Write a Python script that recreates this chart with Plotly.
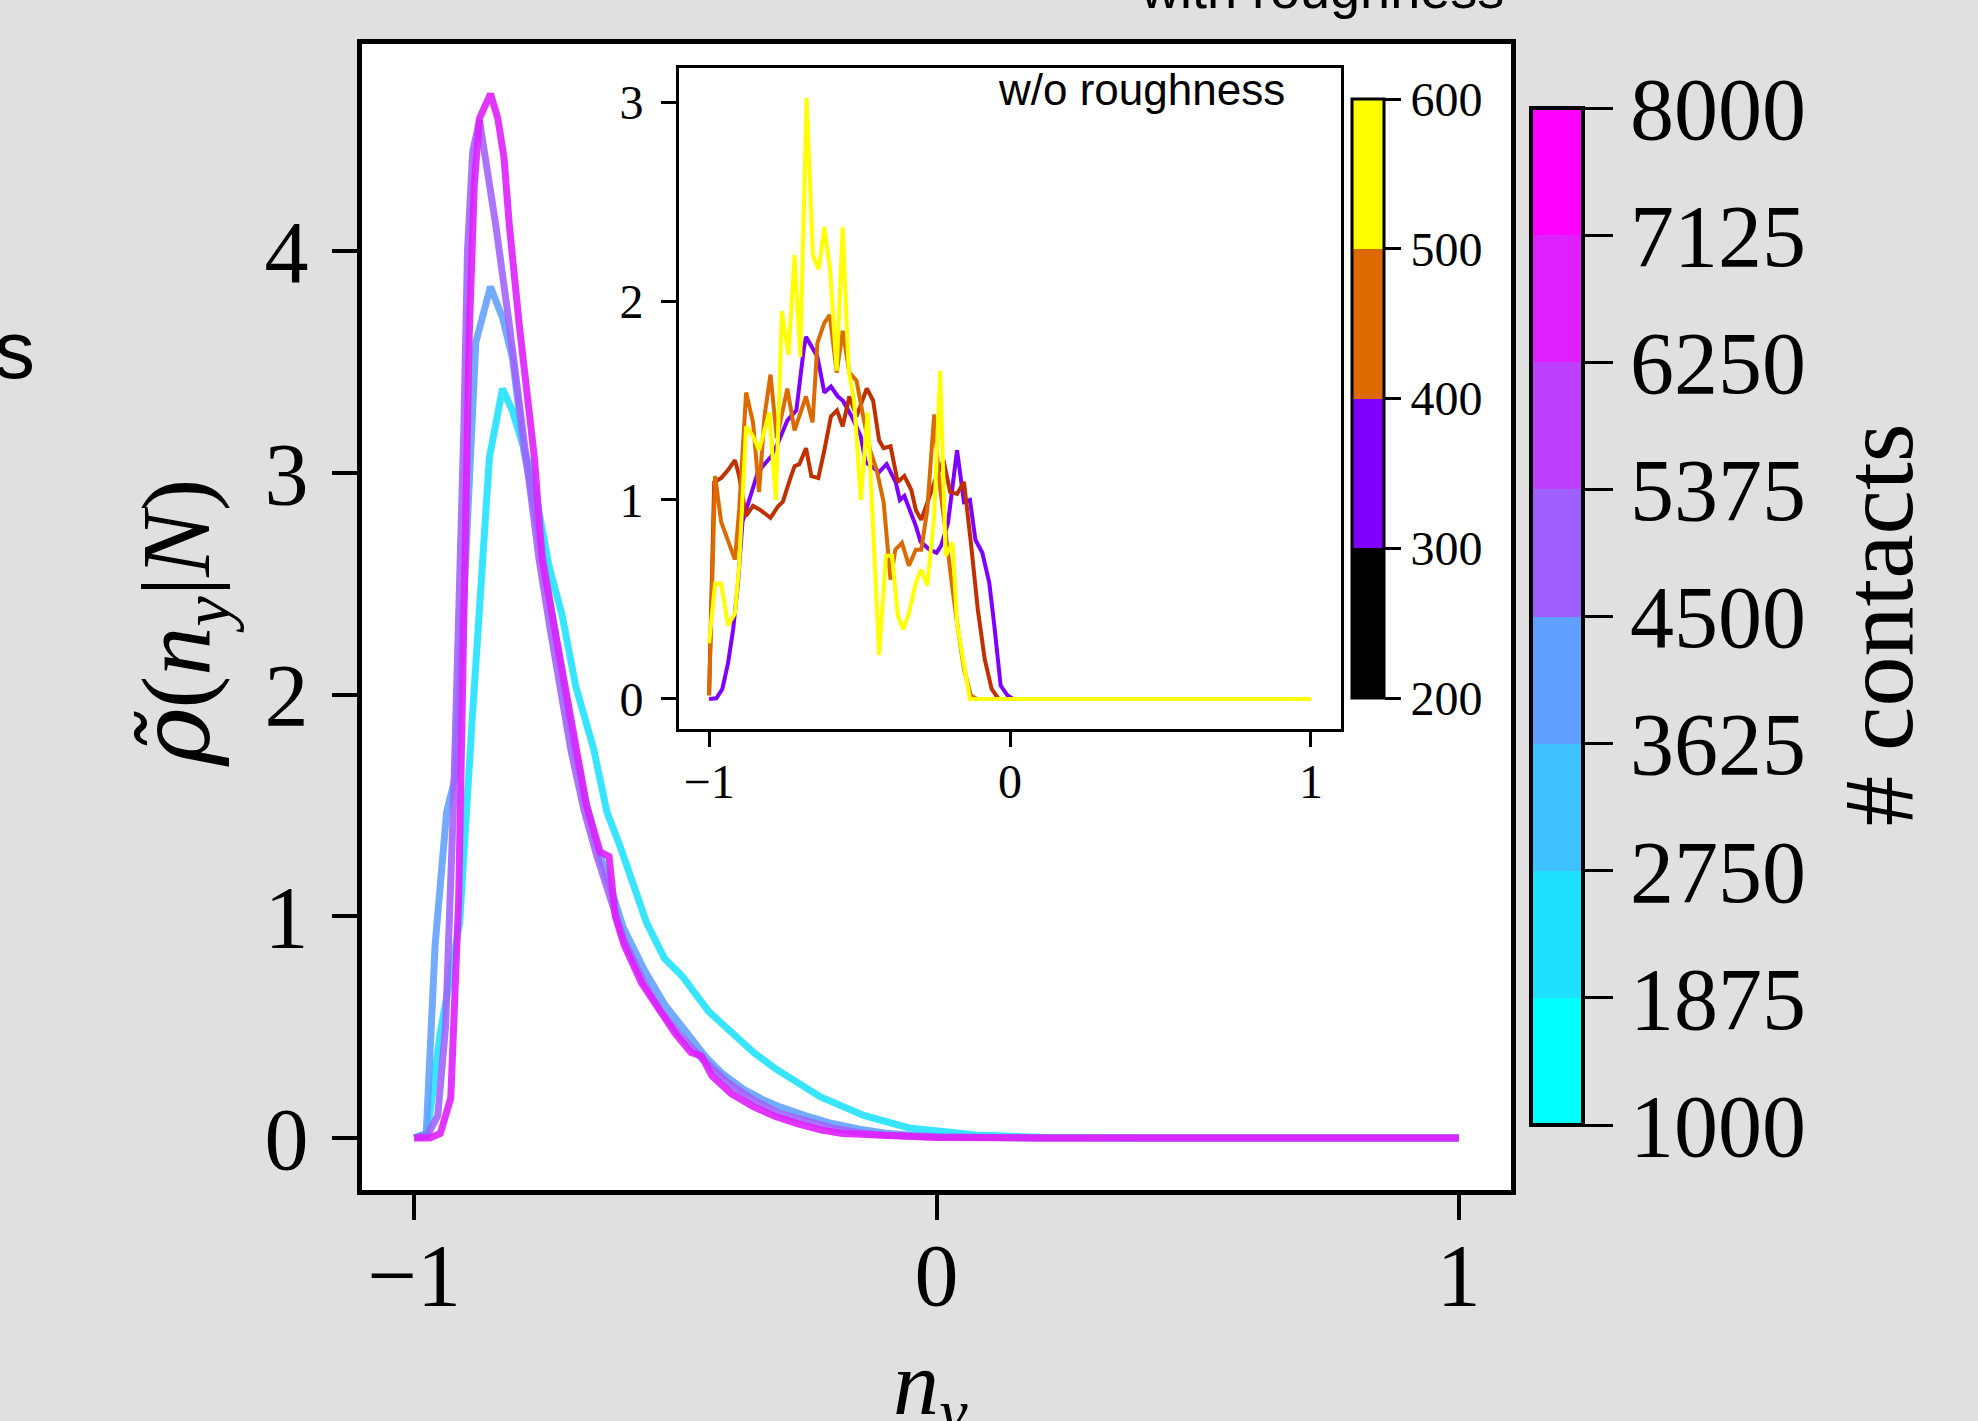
import plotly.graph_objects as go

W, H = 1978, 1421

# ---------------- main panel data (n_y, rho) ----------------
cyan_x = [-1.0, -0.975, -0.951, -0.913, -0.89, -0.861, -0.856, -0.831, -0.812, -0.774, -0.742, -0.717,
          -0.691, -0.657, -0.631, -0.605, -0.555, -0.521, -0.487, -0.436, -0.35, -0.307, -0.222,
          -0.138, -0.052, 0.076, 0.2, 0.4, 1.0]
cyan_y = [0.0, 0.02, 0.46, 0.97, 1.85, 2.88, 3.07, 3.38, 3.28, 2.99, 2.58, 2.36,
          2.04, 1.76, 1.47, 1.31, 0.97, 0.81, 0.73, 0.57, 0.385, 0.31, 0.185,
          0.10, 0.045, 0.013, 0.003, 0.0, 0.0]

blue_x = [-1.0, -0.977, -0.96, -0.938, -0.921, -0.909, -0.895, -0.882, -0.854, -0.831, -0.812, -0.79,
          -0.77, -0.75, -0.72, -0.7, -0.675, -0.65, -0.62, -0.6, -0.56, -0.52, -0.48, -0.44, -0.41,
          -0.37, -0.33, -0.3, -0.25, -0.2, -0.15, -0.1, -0.05, 0.0, 0.1, 0.2, 1.0]
blue_y = [0.0, 0.02, 0.87, 1.47, 1.63, 2.28, 3.0, 3.59, 3.84, 3.70, 3.52, 3.1,
          2.85, 2.55, 2.1, 1.85, 1.55, 1.32, 1.1, 0.95, 0.76, 0.6, 0.48, 0.36, 0.29,
          0.22, 0.17, 0.14, 0.1, 0.065, 0.04, 0.022, 0.012, 0.006, 0.002, 0.0, 0.0]

lav_x = [-1.0, -0.975, -0.955, -0.94, -0.925, -0.912, -0.905, -0.898, -0.888, -0.875, -0.863, -0.844,
         -0.818, -0.787, -0.761, -0.74, -0.72, -0.7, -0.675, -0.65, -0.62, -0.6, -0.56, -0.53, -0.49,
         -0.45, -0.4, -0.35, -0.3, -0.25, -0.2, -0.15, -0.1, 0.0, 0.2, 1.0]
lav_y = [0.0, 0.01, 0.1, 0.5, 1.5, 2.5, 3.2, 4.0, 4.45, 4.59, 4.42, 4.12,
         3.67, 3.07, 2.61, 2.3, 2.0, 1.75, 1.48, 1.27, 1.05, 0.9, 0.7, 0.58, 0.46,
         0.36, 0.25, 0.17, 0.11, 0.075, 0.045, 0.025, 0.012, 0.004, 0.0, 0.0]

mag_x = [-1.0, -0.97, -0.95, -0.93, -0.915, -0.905, -0.895, -0.885, -0.875, -0.854, -0.84, -0.828,
         -0.818, -0.799, -0.77, -0.755, -0.733, -0.711, -0.691, -0.67, -0.644, -0.627, -0.615, -0.598,
         -0.565, -0.529, -0.5, -0.47, -0.45, -0.43, -0.393, -0.35, -0.307, -0.265, -0.22, -0.18, -0.1,
         -0.05, 0.0, 0.2, 0.5, 1.0]
mag_y = [0.0, 0.0, 0.02, 0.18, 1.07, 2.3, 3.6, 4.3, 4.6, 4.71, 4.6, 4.42,
         4.12, 3.67, 3.07, 2.61, 2.32, 2.0, 1.76, 1.5, 1.29, 1.27, 1.0, 0.87,
         0.7, 0.57, 0.47, 0.385, 0.37, 0.28, 0.2, 0.14, 0.095, 0.063, 0.035, 0.02, 0.01,
         0.005, 0.002, 0.0, 0.0, 0.0]

# ---------------- inset data ----------------
vio_x = [-1.0, -0.976, -0.956, -0.937, -0.92, -0.904, -0.889, -0.873, -0.855, -0.838, -0.816, -0.793,
         -0.77, -0.74, -0.71, -0.70, -0.686, -0.678, -0.64, -0.617, -0.595, -0.572, -0.556, -0.526,
         -0.496, -0.48, -0.455, -0.435, -0.41, -0.38, -0.366, -0.351, -0.313, -0.297, -0.267, -0.244,
         -0.229, -0.206, -0.176, -0.161, -0.153, -0.133, -0.115, -0.092, -0.069, -0.053, -0.031,
         -0.008, 0.01, 1.0]
vio_y = [0.0, 0.003, 0.05, 0.18, 0.35, 0.58, 0.89, 0.97, 1.05, 1.14, 1.18, 1.22,
         1.29, 1.40, 1.45, 1.59, 1.75, 1.82, 1.72, 1.54, 1.57, 1.52, 1.50, 1.42,
         1.32, 1.19, 1.16, 1.14, 1.18, 1.09, 1.00, 1.02, 0.87, 0.79, 0.75, 0.735,
         0.77, 0.885, 1.25, 1.09, 0.99, 1.00, 0.80, 0.735, 0.585, 0.38, 0.067,
         0.017, 0.0, 0.0]

red_x = [-1.0, -0.983, -0.96, -0.937, -0.914, -0.90, -0.877, -0.854, -0.83, -0.796, -0.77, -0.755,
         -0.732, -0.716, -0.70, -0.678, -0.66, -0.637, -0.617, -0.595, -0.575, -0.556, -0.534, -0.51,
         -0.476, -0.455, -0.435, -0.42, -0.397, -0.373, -0.351, -0.328, -0.313, -0.295, -0.267,
         -0.244, -0.221, -0.199, -0.176, -0.153, -0.13, -0.107, -0.084, -0.061, -0.038, 1.0]
red_y = [0.02, 1.09, 1.11, 1.15, 1.2, 1.12, 0.92, 0.97, 0.95, 0.91, 0.97, 0.99,
         1.10, 1.17, 1.18, 1.26, 1.12, 1.11, 1.25, 1.42, 1.45, 1.37, 1.52, 1.42,
         1.56, 1.50, 1.30, 1.26, 1.27, 1.09, 1.12, 1.05, 0.95, 0.90, 1.02,
         1.12, 1.20, 1.04, 1.03, 1.09, 0.785, 0.45, 0.20, 0.05, 0.0, 0.0]

ora_x = [-1.0, -0.98, -0.96, -0.937, -0.914, -0.90, -0.877, -0.854, -0.834, -0.816, -0.796, -0.775,
         -0.74, -0.716, -0.694, -0.678, -0.656, -0.64, -0.617, -0.599, -0.576, -0.556, -0.534, -0.51,
         -0.488, -0.465, -0.443, -0.42, -0.397, -0.381, -0.359, -0.336, -0.313, -0.295, -0.275,
         -0.252, -0.237, -0.214, -0.191, -0.171, -0.153, -0.13, -0.11, 1.0]
ora_y = [0.017, 1.12, 0.89, 0.79, 0.70, 0.95, 1.54, 1.39, 1.04, 1.42, 1.63, 1.31,
         1.56, 1.35, 1.45, 1.52, 1.39, 1.79, 1.89, 1.93, 1.64, 1.85, 1.64, 1.60,
         1.42, 1.25, 1.15, 0.99, 0.60, 0.75, 0.785, 0.67, 0.75, 0.75, 0.95,
         1.43, 1.12, 0.82, 0.55, 0.33, 0.15, 0.017, 0.0, 0.0]

yel_x = [-1.0, -0.98, -0.96, -0.937, -0.914, -0.90, -0.877, -0.854, -0.834, -0.80, -0.778, -0.758,
         -0.736, -0.716, -0.697, -0.676, -0.655, -0.636, -0.617, -0.598, -0.576, -0.556, -0.536,
         -0.518, -0.496, -0.473, -0.435, -0.412, -0.392, -0.373, -0.355, -0.336, -0.313, -0.295,
         -0.275, -0.252, -0.232, -0.214, -0.191, -0.176, -0.153, -0.133, 1.0]
yel_y = [0.28, 0.58, 0.58, 0.37, 0.43, 0.67, 1.37, 1.32, 1.25, 1.44, 1.0, 1.95,
         1.73, 2.23, 1.72, 3.02, 2.23, 2.16, 2.37, 2.16, 1.65, 2.37, 1.65,
         1.50, 1.0, 1.44, 0.22, 0.72, 0.72, 0.42, 0.35, 0.43, 0.585, 0.65,
         0.57, 0.92, 1.65, 0.72, 0.785, 0.38, 0.17, 0.0, 0.0]

# ---------------- colorbar definitions ----------------
contact_ticks = [1000, 1875, 2750, 3625, 4500, 5375, 6250, 7125, 8000]
contact_colors = ["#00FFFF", "#1FE0FF", "#3FC0FF", "#5F9FFF", "#9F5FFF", "#BF3FFF", "#DF1FFF", "#FF00FF"]
inset_ticks = [200, 300, 400, 500, 600]
inset_colors = ["#000000", "#8000FF", "#DD6A00", "#FFFF00"]

main_ticks_x = [-1, 0, 1]
main_ticks_y = [0, 1, 2, 3, 4]
inset_ticks_y = [0, 1, 2, 3]


def discrete_scale(colors):
    n = len(colors)
    scale = []
    for i, c in enumerate(colors):
        scale.append([i / n, c])
        scale.append([(i + 1) / n, c])
    return scale


SERIF = "Liberation Serif, Times New Roman, serif"
SANS = "Liberation Sans, Arial, sans-serif"

fig = go.Figure()

main_series = [
    (cyan_x, cyan_y, "rgba(28,225,255,0.88)"),
    (blue_x, blue_y, "rgba(95,159,255,0.88)"),
    (lav_x, lav_y, "rgba(160,96,255,0.88)"),
    (mag_x, mag_y, "rgba(223,31,255,0.9)"),
]
for xs, ys, col in main_series:
    fig.add_trace(go.Scatter(x=xs, y=ys, mode="lines", line=dict(color=col, width=7),
                             xaxis="x", yaxis="y", hoverinfo="skip"))

inset_series = [
    (vio_x, vio_y, "#8000FF"),
    (red_x, red_y, "#C03000"),
    (ora_x, ora_y, "#DD6A00"),
    (yel_x, yel_y, "#FFFF00"),
]
for xs, ys, col in inset_series:
    fig.add_trace(go.Scatter(x=xs, y=ys, mode="lines", line=dict(color=col, width=4),
                             xaxis="x2", yaxis="y2", hoverinfo="skip"))

# main colorbar
fig.add_trace(go.Scatter(
    x=[None], y=[None], mode="markers", xaxis="x", yaxis="y", hoverinfo="skip",
    marker=dict(color=[contact_ticks[0], contact_ticks[-1]], cmin=contact_ticks[0], cmax=contact_ticks[-1],
                colorscale=discrete_scale(contact_colors), showscale=True,
                colorbar=dict(x=1531 / W, xanchor="left", y=1 - 616.5 / H, yanchor="middle",
                              len=(1125 - 108) / H, lenmode="fraction", thickness=52, thicknessmode="pixels",
                              xpad=0, ypad=0, outlinewidth=4, outlinecolor="black",
                              tickmode="array", tickvals=contact_ticks, ticktext=[str(t) for t in contact_ticks],
                              ticks="outside", ticklen=28, tickwidth=3, tickcolor="black",
                              tickfont=dict(family=SERIF, size=88, color="black"),
                              bgcolor="rgba(0,0,0,0)"))))

# inset colorbar
fig.add_trace(go.Scatter(
    x=[None], y=[None], mode="markers", xaxis="x2", yaxis="y2", hoverinfo="skip",
    marker=dict(color=[inset_ticks[0], inset_ticks[-1]], cmin=inset_ticks[0], cmax=inset_ticks[-1],
                colorscale=discrete_scale(inset_colors), showscale=True,
                colorbar=dict(x=1352 / W, xanchor="left", y=1 - 398.5 / H, yanchor="middle",
                              len=(698 - 99) / H, lenmode="fraction", thickness=32, thicknessmode="pixels",
                              xpad=0, ypad=0, outlinewidth=3, outlinecolor="black",
                              tickmode="array", tickvals=inset_ticks, ticktext=[str(t) for t in inset_ticks],
                              ticks="outside", ticklen=16, tickwidth=2.5, tickcolor="black",
                              tickfont=dict(family=SERIF, size=48, color="black"),
                              bgcolor="rgba(0,0,0,0)"))))

axis_common = dict(showgrid=False, zeroline=False, showline=True, mirror=True, linecolor="black",
                   ticks="outside", tickcolor="black")

fig.update_layout(
    width=W, height=H, margin=dict(l=0, r=0, t=0, b=0, pad=0),
    paper_bgcolor="#E0E0E0", plot_bgcolor="white", showlegend=False,
    xaxis=dict(domain=[362 / W, 1511 / W], range=[-1.1, 1.1], tickmode="array", tickvals=main_ticks_x,
               ticktext=["−1", "0", "1"], linewidth=5, ticklen=25, tickwidth=4, ticklabelstandoff=-21,
               tickfont=dict(family=SERIF, size=88, color="black"), anchor="y", **axis_common),
    yaxis=dict(domain=[1 - 1190 / H, 1 - 44 / H], range=[-0.235, 4.935], tickmode="array",
               tickvals=main_ticks_y, ticktext=[str(v) for v in main_ticks_y], linewidth=5, ticklen=25,
               tickwidth=4, ticklabelstandoff=6,
               tickfont=dict(family=SERIF, size=88, color="black"), anchor="x", **axis_common),
    xaxis2=dict(domain=[679 / W, 1341 / W], range=[-1.1, 1.1], tickmode="array", tickvals=main_ticks_x,
                ticktext=["−1", "0", "1"], linewidth=3, ticklen=15, tickwidth=2.5, ticklabelstandoff=-7,
                tickfont=dict(family=SERIF, size=48, color="black"), anchor="y2", **axis_common),
    yaxis2=dict(domain=[1 - 729 / H, 1 - 68 / H], range=[-0.151, 3.171], tickmode="array",
                tickvals=inset_ticks_y, ticktext=[str(v) for v in inset_ticks_y], linewidth=3, ticklen=15,
                tickwidth=2.5, ticklabelstandoff=8,
                tickfont=dict(family=SERIF, size=48, color="black"), anchor="x2",
                **axis_common),
)

annotations = [
    dict(text="<span style=\"font-family:'DejaVu Serif'\"><i>ρ̃</i></span>(<i>n</i><sub><i>y</i></sub>|<i>N</i>)",
         x=181 / W, y=1 - 623 / H, textangle=-90,
         font=dict(family=SERIF, size=98, color="black")),
    dict(text="<i>n</i><sub><i>y</i></sub>", x=930 / W, y=1 - 1389 / H,
         font=dict(family=SERIF, size=92, color="black")),
    dict(text="# contacts", x=1878 / W, y=1 - 625 / H, textangle=-90,
         font=dict(family=SERIF, size=100, color="black")),
    dict(text="w/o roughness", x=1287 / W, y=1 - 90 / H, xanchor="right",
         font=dict(family=SANS, size=44, color="black")),
    dict(text="with roughness", x=1322 / W, y=1 + 11 / H,
         font=dict(family=SANS, size=54, color="black")),
    dict(text="s", x=37 / W, y=1 - 349 / H, xanchor="right",
         font=dict(family=SANS, size=82, color="black")),
]
for a in annotations:
    a.setdefault("xanchor", "center")
    a.setdefault("yanchor", "middle")
    fig.add_annotation(xref="paper", yref="paper", showarrow=False, **a)

fig.write_html("out.html", config={"displayModeBar": False},
               post_script="document.body.style.margin='0px';document.body.style.overflow='hidden';")
